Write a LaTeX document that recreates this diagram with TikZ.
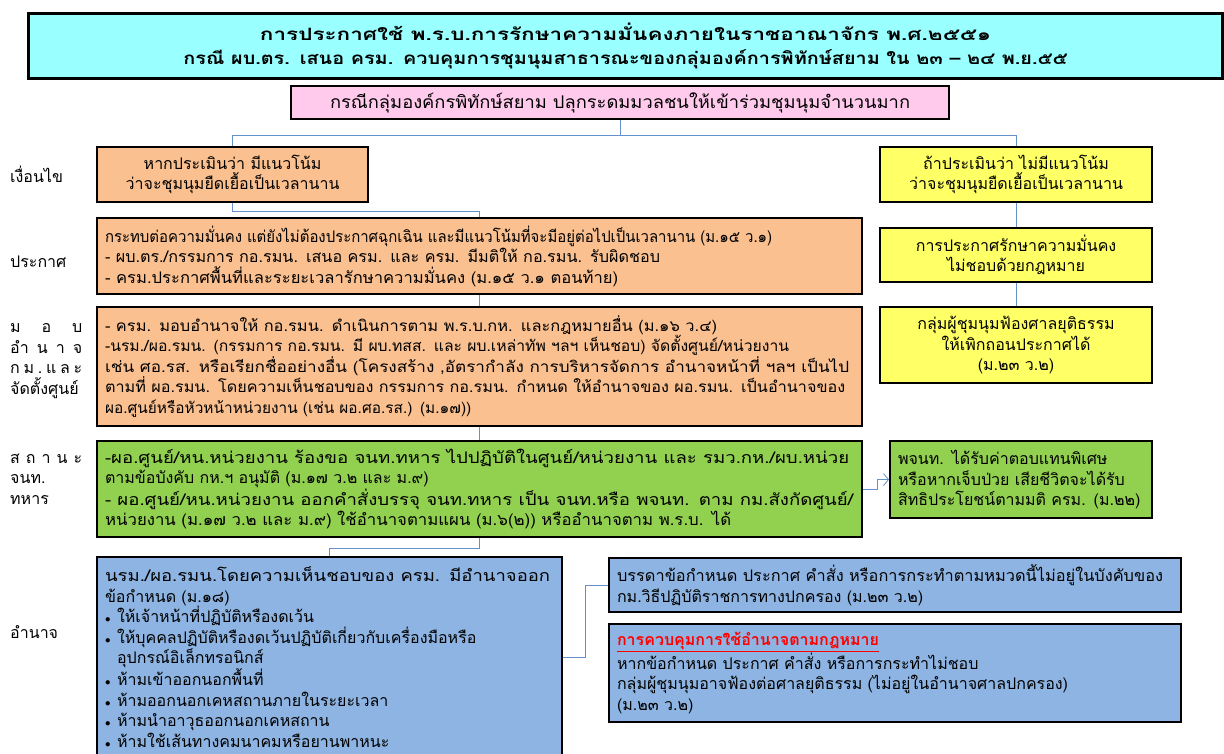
\documentclass[tikz,border=0pt]{standalone}
\usepackage{fontspec}
\usepackage{graphicx}
\setmainfont[Script=Thai]{Loma}
\usetikzlibrary{arrows.meta}

\definecolor{titlecyan}{RGB}{153,255,255}
\definecolor{casepink}{RGB}{255,202,236}
\definecolor{condorange}{RGB}{250,192,144}
\definecolor{condyellow}{RGB}{255,255,102}
\definecolor{milgreen}{RGB}{146,208,80}
\definecolor{powblue}{RGB}{141,180,226}
\definecolor{linkblue}{RGB}{100,145,205}

\newcommand{\blt}{\makebox[12pt][l]{$\scriptstyle\bullet$}}
\newcommand{\squeeze}[2]{\resizebox{#1}{\height}{#2}}

\tikzset{
    box/.style={draw=black, line width=2.1pt, anchor=north west, inner xsep=8pt, inner ysep=0pt,
        font=\fontsize{16}{20.5}\selectfont},
    leftbox/.style={box, align=left},
    midbox/.style={box, align=center},
    sidelabel/.style={anchor=west, inner sep=0pt, align=left, font=\fontsize{16}{20.5}\selectfont},
    link/.style={draw=linkblue, line width=0.8pt},
}

\begin{document}
\begin{tikzpicture}[x=1pt, y=-1pt]

    \useasboundingbox (0,0) rectangle (1224,753);

    \node[midbox, fill=titlecyan, line width=3pt, minimum width=1194pt, minimum height=65pt, text width=1178pt,
        font=\fontsize{17}{24}\selectfont\bfseries] (title) at (27,12)
        {\squeeze{731pt}{การประกาศใช้ พ.ร.บ.การรักษาความมั่นคงภายในราชอาณาจักร พ.ศ.๒๕๕๑}\\
         \squeeze{884pt}{กรณี ผบ.ตร. เสนอ ครม. ควบคุมการชุมนุมสาธารณะของกลุ่มองค์การพิทักษ์สยาม ใน ๒๓ – ๒๔ พ.ย.๕๕}};

    \node[midbox, fill=casepink, minimum width=658pt, minimum height=33pt, text width=642pt,
        font=\fontsize{17.5}{20.5}\selectfont] (case) at (290,85)
        {\squeeze{580pt}{กรณีกลุ่มองค์กรพิทักษ์สยาม ปลุกระดมมวลชนให้เข้าร่วมชุมนุมจำนวนมาก}};

    \node[midbox, fill=condorange, minimum width=271pt, minimum height=55pt, text width=255pt] (cond1) at (96,146)
        {หากประเมินว่า มีแนวโน้ม\\ว่าจะชุมนุมยืดเยื้อเป็นเวลานาน};
    \node[midbox, fill=condyellow, minimum width=272pt, minimum height=55pt, text width=256pt] (cond2) at (879,146)
        {ถ้าประเมินว่า ไม่มีแนวโน้ม\\ว่าจะชุมนุมยืดเยื้อเป็นเวลานาน};

    \node[leftbox, fill=condorange, minimum width=765pt, minimum height=76pt, text width=749pt] (ann1) at (96,217)
        {\squeeze{667pt}{กระทบต่อความมั่นคง แต่ยังไม่ต้องประกาศฉุกเฉิน และมีแนวโน้มที่จะมีอยู่ต่อไปเป็นเวลานาน (ม.๑๕ ว.๑)}\\
         \squeeze{555pt}{- ผบ.ตร./กรรมการ กอ.รมน. เสนอ ครม. และ ครม. มีมติให้ กอ.รมน. รับผิดชอบ}\\
         \squeeze{513pt}{- ครม.ประกาศพื้นที่และระยะเวลารักษาความมั่นคง (ม.๑๕ ว.๑ ตอนท้าย)}};
    \node[midbox, fill=condyellow, minimum width=272pt, minimum height=54pt, text width=256pt] (ann2) at (879,227)
        {การประกาศรักษาความมั่นคง\\ไม่ชอบด้วยกฎหมาย};

    \node[leftbox, fill=condorange, minimum width=765pt, minimum height=119pt, text width=749pt,
        font=\fontsize{15.4}{20.5}\selectfont] (auth) at (96,306)
        {\squeeze{612pt}{- ครม. มอบอำนาจให้ กอ.รมน. ดำเนินการตาม พ.ร.บ.กห. และกฎหมายอื่น (ม.๑๖ ว.๔)}\\
         \squeeze{684pt}{-นรม./ผอ.รมน. (กรรมการ กอ.รมน. มี ผบ.ทสส. และ ผบ.เหล่าทัพ ฯลฯ เห็นชอบ) จัดตั้งศูนย์/หน่วยงาน}\\
         \squeeze{744pt}{เช่น ศอ.รส. หรือเรียกชื่ออย่างอื่น (โครงสร้าง ,อัตรากำลัง การบริหารจัดการ อำนาจหน้าที่ ฯลฯ เป็นไป}\\
         \squeeze{740pt}{ตามที่ ผอ.รมน. โดยความเห็นชอบของ กรรมการ กอ.รมน. กำหนด ให้อำนาจของ ผอ.รมน. เป็นอำนาจของ}\\
         ผอ.ศูนย์หรือหัวหน้าหน่วยงาน (เช่น ผอ.ศอ.รส.) (ม.๑๗))};
    \node[midbox, fill=condyellow, minimum width=272pt, minimum height=76pt, text width=256pt] (court) at (879,306)
        {กลุ่มผู้ชุมนุมฟ้องศาลยุติธรรม\\ให้เพิกถอนประกาศได้\\(ม.๒๓ ว.๒)};

    \node[leftbox, fill=milgreen, minimum width=765pt, minimum height=96pt, text width=749pt] (mil1) at (96,440)
        {\squeeze{744pt}{-ผอ.ศูนย์/หน.หน่วยงาน ร้องขอ จนท.ทหาร ไปปฏิบัติในศูนย์/หน่วยงาน และ รมว.กห./ผบ.หน่วย}\\
         ตามข้อบังคับ กห.ฯ อนุมัติ (ม.๑๗ ว.๒ และ ม.๙)\\
         \squeeze{748pt}{- ผอ.ศูนย์/หน.หน่วยงาน ออกคำสั่งบรรจุ จนท.ทหาร เป็น จนท.หรือ พจนท. ตาม กม.สังกัดศูนย์/}\\
         \squeeze{626pt}{หน่วยงาน (ม.๑๗ ว.๒ และ ม.๙) ใช้อำนาจตามแผน (ม.๖(๒)) หรืออำนาจตาม พ.ร.บ. ได้}};
    \node[leftbox, fill=milgreen, minimum width=262pt, minimum height=77pt, text width=246pt] (mil2) at (889,440)
        {พจนท. ได้รับค่าตอบแทนพิเศษ\\หรือหากเจ็บป่วย เสียชีวิตจะได้รับ\\สิทธิประโยชน์ตามมติ ครม. (ม.๒๒)};

    \node[leftbox, fill=powblue, minimum width=465pt, minimum height=200pt, text width=449pt] (pow1) at (96,556)
        {\squeeze{445pt}{นรม./ผอ.รมน.โดยความเห็นชอบของ ครม. มีอำนาจออก}\\
         ข้อกำหนด (ม.๑๘)\\
         \blt ให้เจ้าหน้าที่ปฏิบัติหรืองดเว้น\\
         \blt ให้บุคคลปฏิบัติหรืองดเว้นปฏิบัติเกี่ยวกับเครื่องมือหรือ\\
         \hspace*{12pt}อุปกรณ์อิเล็กทรอนิกส์\\
         \blt ห้ามเข้าออกนอกพื้นที่\\
         \blt ห้ามออกนอกเคหสถานภายในระยะเวลา\\
         \blt ห้ามนำอาวุธออกนอกเคหสถาน\\
         \blt ห้ามใช้เส้นทางคมนาคมหรือยานพาหนะ};
    \node[leftbox, fill=powblue, minimum width=572pt, minimum height=54pt, text width=556pt] (pow2) at (608,557)
        {\squeeze{546pt}{บรรดาข้อกำหนด ประกาศ คำสั่ง หรือการกระทำตามหมวดนี้ไม่อยู่ในบังคับของ}\\
         กม.วิธีปฏิบัติราชการทางปกครอง (ม.๒๓ ว.๒)};
    \node[leftbox, fill=powblue, minimum width=572pt, minimum height=98pt, text width=556pt] (pow3) at (608,623)
        {{\color{red}\bfseries\underline{การควบคุมการใช้อำนาจตามกฎหมาย}}\\
         หากข้อกำหนด ประกาศ คำสั่ง หรือการกระทำไม่ชอบ\\
         กลุ่มผู้ชุมนุมอาจฟ้องต่อศาลยุติธรรม (ไม่อยู่ในอำนาจศาลปกครอง)\\
         (ม.๒๓ ว.๒)};

    \node[sidelabel] (lab1) at (10,174) {เงื่อนไข};
    \node[sidelabel] (lab2) at (10,262) {ประกาศ};
    \node[sidelabel] (lab3) at (10,361)
        {\makebox[72pt][l]{ม\hfill อ\hfill บ}\\\makebox[72pt][l]{อำ\hfill น\hfill า\hfill จ}\\
         \makebox[72pt][l]{ก\hfill ม\hfill .\hfill แ\hfill ล\hfill ะ}\\จัดตั้งศูนย์};
    \node[sidelabel] (lab4) at (10,479)
        {\makebox[72pt][l]{ส\hfill ถ\hfill า\hfill น\hfill ะ}\\จนท.\\ทหาร};
    \node[sidelabel] (lab5) at (10,632) {อำนาจ};

    \draw[link] (case.south) -- ++(0,15) -| (cond1.north);
    \draw[link] (case.south) -- ++(0,15) -| (cond2.north);
    \draw[link] (cond1.south) -- ++(0,8) -| (ann1.north);
    \draw[link] (cond2.south) -- (ann2.north);
    \draw[link] (ann2.south) -- (court.north);
    \draw[link] (ann1.south) -- (auth.north);
    \draw[link] (auth.south) -- (mil1.north);
    \draw[link] (mil1.south) -- ++(0,10) -| (pow1.north);
    \draw[link, -{Straight Barb[length=5pt, width=12pt]}] (mil1.east) -- ++(14,0) |- (mil2.west);
    \draw[link] (pow1.east) -- ++(22,0) |- (pow2.west);

\end{tikzpicture}
\end{document}
